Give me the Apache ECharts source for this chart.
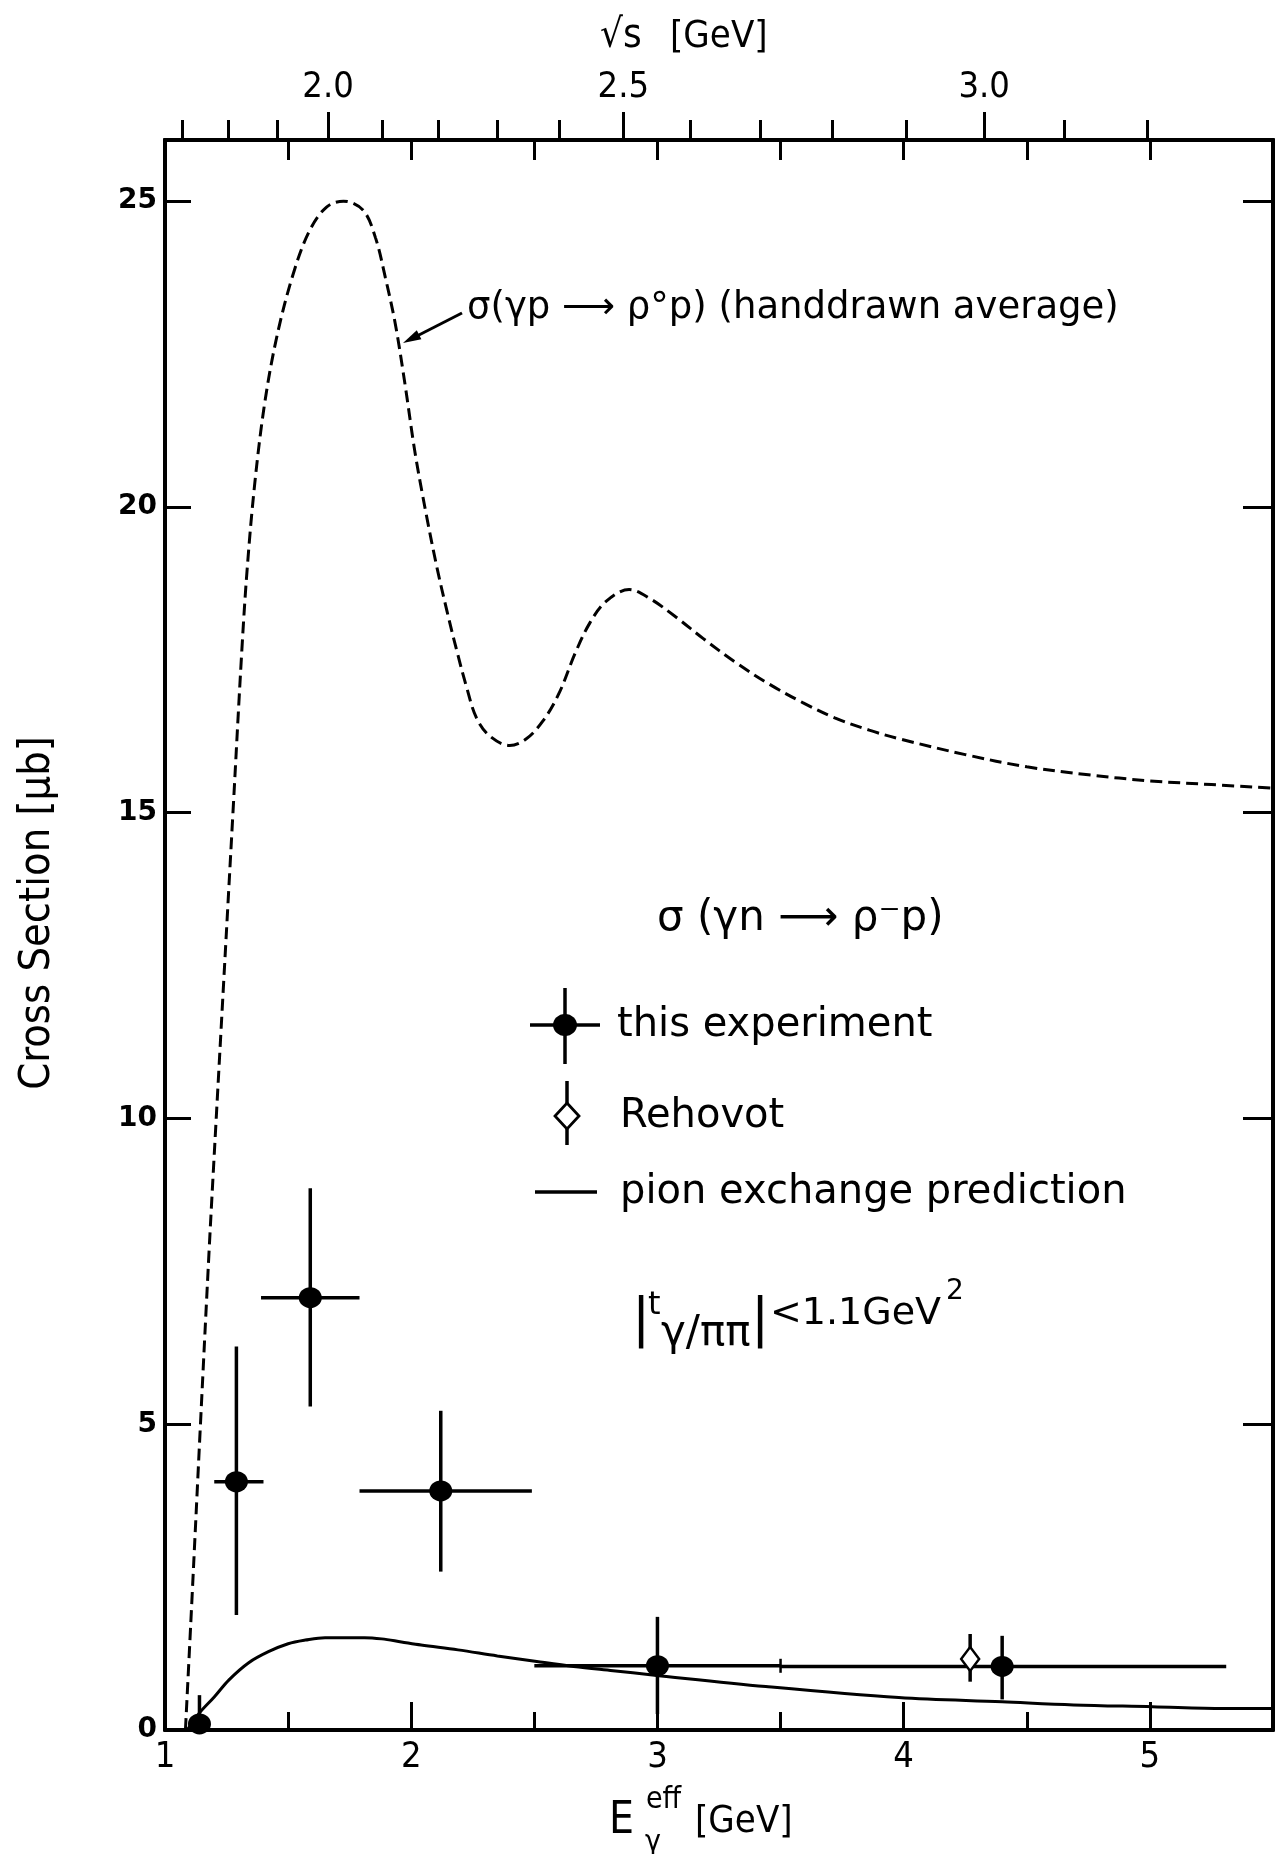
<!DOCTYPE html>
<html>
<head>
<meta charset="utf-8">
<script src="https://cdn.jsdelivr.net/npm/echarts@6/dist/echarts.min.js"></script>
<style>
html,body{margin:0;padding:0;background:#fff;}
#chart{width:1285px;height:1854px;}
</style>
</head>
<body>
<div id="chart"></div>
<script>
// ---------------- data ----------------
const PROTON_MASS = 0.93827; // GeV, converts E_gamma to sqrt(s) for the top axis

// axis ticks
const sqrtSTickValues = [1.7, 1.8, 1.9, 2.0, 2.1, 2.2, 2.3, 2.4, 2.5, 2.6, 2.7, 2.8, 2.9, 3.0, 3.1, 3.2];
const sqrtSLabelValues = [2.0, 2.5, 3.0];
const eMajorTicks = [1, 2, 3, 4, 5];
const eMinorTicks = [1.5, 2.5, 3.5, 4.5];
const eTopTicks = [1.5, 2, 2.5, 3, 3.5, 4, 4.5, 5];
const sigmaTicks = [0, 5, 10, 15, 20, 25];

// sigma(gamma p -> rho0 p), hand-drawn average (dashed)
const rhoE = [1.083, 1.109, 1.144, 1.179, 1.208, 1.276, 1.312, 1.334, 1.365, 1.405, 1.455, 1.52, 1.585, 1.655, 1.725, 1.805, 1.855, 1.895, 1.935, 1.975, 2.015, 2.06, 2.105, 2.145, 2.185, 2.225, 2.265, 2.32, 2.40, 2.465, 2.535, 2.60, 2.665, 2.725, 2.79, 2.885, 2.97, 3.075, 3.185, 3.32, 3.455, 3.59, 3.72, 3.86, 3.99, 4.25, 4.5, 4.75, 5.0, 5.25, 5.5];
const rhoSigma = [0, 2.1, 5.0, 7.83, 10.0, 15.0, 17.65, 19.0, 20.4, 21.7, 22.8, 23.8, 24.5, 24.9, 25.0, 24.85, 24.4, 23.75, 23.0, 22.0, 20.9, 19.9, 19.0, 18.3, 17.65, 17.05, 16.55, 16.25, 16.1, 16.2, 16.5, 16.95, 17.6, 18.1, 18.45, 18.65, 18.5, 18.2, 17.85, 17.45, 17.1, 16.8, 16.55, 16.35, 16.2, 15.95, 15.75, 15.62, 15.52, 15.46, 15.4];

// pion exchange prediction (solid)
const pionE = [1.09, 1.14, 1.20, 1.26, 1.34, 1.42, 1.50, 1.57, 1.65, 1.73, 1.81, 1.88, 1.96, 2.04, 2.19, 2.35, 2.51, 2.66, 2.82, 2.98, 3.44, 3.98, 4.40, 4.69, 5.01, 5.30, 5.5];
const pionSigma = [0, 0.28, 0.54, 0.82, 1.10, 1.28, 1.41, 1.47, 1.51, 1.51, 1.51, 1.49, 1.44, 1.39, 1.31, 1.21, 1.12, 1.04, 0.97, 0.90, 0.71, 0.53, 0.46, 0.41, 0.38, 0.35, 0.35];

// this experiment
const expE = [1.14, 1.29, 1.59, 2.12, 3.0, 4.40];
const expSigma = [0.1, 4.06, 7.07, 3.91, 1.05, 1.04];
const expELow = [1.14, 1.20, 1.39, 1.79, 2.5, 3.5];
const expEHigh = [1.14, 1.40, 1.79, 2.49, 3.5, 5.31];
const expSigmaLow = [0, 1.88, 5.29, 2.59, 0.26, 0.50];
const expSigmaHigh = [0.57, 6.27, 8.86, 5.22, 1.85, 1.54];

// Rehovot
const rehE = [4.27];
const rehSigma = [1.16];
const rehSigmaLow = [0.79];
const rehSigmaHigh = [1.57];

// ---------------- helpers ----------------
const m = PROTON_MASS;
const eOfSqrtS = w => (w * w - m * m) / (2 * m);
const sqrtSOfE = e => Math.sqrt(m * m + 2 * m * e);

const NARROW = "'Liberation Sans Narrow', 'DejaVu Sans Condensed', 'Liberation Sans', sans-serif";
const TEXT = "'DejaVu Sans', 'Liberation Sans', sans-serif";
const BLACK = '#000';
const AXIS_LINE = {show: true, onZero: false, lineStyle: {color: BLACK, width: 4}};

function errorBarRender(params, api) {
  const x = api.value(0), y = api.value(1);
  const xl = api.value(2), xh = api.value(3), yl = api.value(4), yh = api.value(5);
  const pl = api.coord([xl, y]), ph = api.coord([xh, y]);
  const vl = api.coord([x, yl]), vh = api.coord([x, yh]);
  const children = [];
  if (xh > xl) children.push({type: 'line', shape: {x1: pl[0], y1: pl[1], x2: ph[0], y2: ph[1]}, style: {stroke: BLACK, lineWidth: 3.5}});
  if (yh > yl) children.push({type: 'line', shape: {x1: vl[0], y1: vl[1], x2: vh[0], y2: vh[1]}, style: {stroke: BLACK, lineWidth: 3.5}});
  // small mark where two adjacent bins join into one continuous line
  if (xh > xl && xh !== x) {
    const j = expELow.indexOf(xh);
    if (j >= 0 && Math.abs(expSigma[j] - y) < 0.2) {
      children.push({type: 'line', shape: {x1: ph[0], y1: ph[1] - 7, x2: ph[0], y2: ph[1] + 7}, style: {stroke: BLACK, lineWidth: 2.5}});
    }
  }
  return {type: 'group', children};
}

function baseX(extra) {
  return Object.assign({
    type: 'value', min: 1, max: 5.5, gridIndex: 0,
    splitLine: {show: false},
    axisLine: AXIS_LINE,
    axisTick: {show: false},
    axisLabel: {show: false}
  }, extra);
}

const option = {
  backgroundColor: '#fff',
  animation: false,
  grid: {left: 165, top: 140, width: 1108, height: 1590, containLabel: false, outerBoundsMode: 'none'},
  xAxis: [
    baseX({position: 'bottom',
      axisTick: {show: true, inside: true, length: 28, customValues: eMajorTicks, lineStyle: {color: BLACK, width: 3}},
      axisLabel: {show: true, customValues: eMajorTicks, margin: 10, color: BLACK, fontSize: 36, fontFamily: NARROW}
    }),
    baseX({position: 'bottom',
      axisTick: {show: true, inside: true, length: 18, customValues: eMinorTicks, lineStyle: {color: BLACK, width: 3}}
    }),
    baseX({position: 'top',
      axisTick: {show: true, inside: true, length: 20, customValues: eTopTicks, lineStyle: {color: BLACK, width: 3}}
    }),
    baseX({position: 'top',
      axisTick: {show: true, inside: false, length: 20, customValues: sqrtSTickValues.map(eOfSqrtS), lineStyle: {color: BLACK, width: 3}}
    }),
    baseX({position: 'top',
      axisTick: {show: true, inside: false, length: 28, customValues: sqrtSLabelValues.map(eOfSqrtS), lineStyle: {color: BLACK, width: 3}},
      axisLabel: {show: true, customValues: sqrtSLabelValues.map(eOfSqrtS), margin: 34, color: BLACK, fontSize: 36, fontFamily: NARROW,
        formatter: v => sqrtSOfE(v).toFixed(1)}
    })
  ],
  yAxis: [
    {type: 'value', min: 0, max: 26, position: 'left', gridIndex: 0,
      splitLine: {show: false},
      axisLine: AXIS_LINE,
      axisTick: {show: true, inside: true, length: 26, customValues: sigmaTicks, lineStyle: {color: BLACK, width: 3}},
      axisLabel: {show: true, customValues: sigmaTicks, margin: 8, color: BLACK, fontSize: 28, fontWeight: 'bold', fontFamily: TEXT}
    },
    {type: 'value', min: 0, max: 26, position: 'right', gridIndex: 0,
      splitLine: {show: false},
      axisLine: AXIS_LINE,
      axisTick: {show: true, inside: true, length: 30, customValues: sigmaTicks, lineStyle: {color: BLACK, width: 3}},
      axisLabel: {show: false}
    }
  ],
  series: [
    {type: 'line', name: 'rho0', xAxisIndex: 0, yAxisIndex: 0, showSymbol: false, smooth: 0.35,
      data: rhoE.map((e, i) => [e, rhoSigma[i]]),
      lineStyle: {color: BLACK, width: 3, type: [12, 6], opacity: 1}, z: 2},
    {type: 'line', name: 'pion', xAxisIndex: 0, yAxisIndex: 0, showSymbol: false, smooth: 0.35,
      data: pionE.map((e, i) => [e, pionSigma[i]]),
      lineStyle: {color: BLACK, width: 3, opacity: 1}, z: 2},
    {type: 'custom', name: 'expErr', xAxisIndex: 0, yAxisIndex: 0, renderItem: errorBarRender,
      encode: {x: 0, y: 1},
      data: expE.map((e, i) => [e, expSigma[i], expELow[i], expEHigh[i], expSigmaLow[i], expSigmaHigh[i]]), z: 3},
    {type: 'custom', name: 'rehErr', xAxisIndex: 0, yAxisIndex: 0, renderItem: errorBarRender,
      encode: {x: 0, y: 1},
      data: rehE.map((e, i) => [e, rehSigma[i], e, e, rehSigmaLow[i], rehSigmaHigh[i]]), z: 3},
    {type: 'scatter', name: 'this experiment', xAxisIndex: 0, yAxisIndex: 0, symbol: 'circle', symbolSize: [23, 21],
      data: expE.map((e, i) => [e, expSigma[i]]), itemStyle: {color: BLACK, opacity: 1}, z: 4},
    {type: 'scatter', name: 'Rehovot', xAxisIndex: 0, yAxisIndex: 0, symbol: 'diamond', symbolSize: [18, 24],
      data: rehE.map((e, i) => [e, rehSigma[i]]), itemStyle: {color: '#fff', borderColor: BLACK, borderWidth: 2.5, opacity: 1}, z: 4}
  ],
  graphic: [
    // axis titles
    {type: 'text', x: 600, y: 37, style: {text: '√s', fill: BLACK, fontSize: 40, fontFamily: NARROW, align: 'left', verticalAlign: 'middle'}},
    {type: 'text', x: 670, y: 37, style: {text: '[GeV]', fill: BLACK, fontSize: 38, fontFamily: NARROW, align: 'left', verticalAlign: 'middle'}},
    {type: 'text', x: 38, y: 913, rotation: Math.PI / 2, style: {text: 'Cross Section [μb]', fill: BLACK, fontSize: 43, fontFamily: NARROW, align: 'center', verticalAlign: 'middle'}},
    {type: 'text', x: 609, y: 1822, style: {text: 'E', fill: BLACK, fontSize: 44, fontFamily: NARROW, align: 'left', verticalAlign: 'middle'}},
    {type: 'text', x: 646, y: 1800, style: {text: 'eff', fill: BLACK, fontSize: 30, fontFamily: NARROW, align: 'left', verticalAlign: 'middle'}},
    {type: 'text', x: 645, y: 1843, style: {text: 'γ', fill: BLACK, fontSize: 30, fontFamily: NARROW, align: 'left', verticalAlign: 'middle'}},
    {type: 'text', x: 695, y: 1822, style: {text: '[GeV]', fill: BLACK, fontSize: 38, fontFamily: NARROW, align: 'left', verticalAlign: 'middle'}},

    // annotation for dashed curve
    {type: 'text', x: 467, y: 308, style: {text: 'σ(γp ⟶ ρ°p) (handdrawn average)', fill: BLACK, fontSize: 37, fontFamily: TEXT, align: 'left', verticalAlign: 'middle'}},
    {type: 'line', shape: {x1: 462, y1: 313, x2: 415, y2: 337}, style: {stroke: BLACK, lineWidth: 3}},
    {type: 'polygon', shape: {points: [[403, 343], [416.8, 330.3], [421.4, 339.3]]}, style: {fill: BLACK}},

    // legend block
    {type: 'text', x: 657, y: 919, style: {text: 'σ (γn ⟶ ρ⁻p)', fill: BLACK, fontSize: 42, fontFamily: TEXT, align: 'left', verticalAlign: 'middle'}},
    {type: 'line', shape: {x1: 530, y1: 1025, x2: 600, y2: 1025}, style: {stroke: BLACK, lineWidth: 3.5}},
    {type: 'line', shape: {x1: 565, y1: 988, x2: 565, y2: 1064}, style: {stroke: BLACK, lineWidth: 3.5}},
    {type: 'ellipse', shape: {cx: 565, cy: 1025, rx: 12, ry: 11}, style: {fill: BLACK}},
    {type: 'text', x: 617, y: 1026, style: {text: 'this experiment', fill: BLACK, fontSize: 40, fontFamily: TEXT, align: 'left', verticalAlign: 'middle'}},
    {type: 'line', shape: {x1: 567, y1: 1081, x2: 567, y2: 1145}, style: {stroke: BLACK, lineWidth: 3.5}},
    {type: 'polygon', shape: {points: [[567, 1103], [579, 1116], [567, 1129], [555, 1116]]}, style: {fill: '#fff', stroke: BLACK, lineWidth: 2.8}},
    {type: 'text', x: 620, y: 1117, style: {text: 'Rehovot', fill: BLACK, fontSize: 40, fontFamily: TEXT, align: 'left', verticalAlign: 'middle'}},
    {type: 'line', shape: {x1: 535, y1: 1192, x2: 597, y2: 1192}, style: {stroke: BLACK, lineWidth: 3.5}},
    {type: 'text', x: 620, y: 1193, style: {text: 'pion exchange prediction', fill: BLACK, fontSize: 40, fontFamily: TEXT, align: 'left', verticalAlign: 'middle'}},

    // |t| cut
    {type: 'text', x: 641, y: 1322, style: {text: '|', fill: BLACK, fontSize: 54, fontFamily: TEXT, align: 'center', verticalAlign: 'middle'}},
    {type: 'text', x: 648, y: 1306, style: {text: 't', fill: BLACK, fontSize: 32, fontFamily: TEXT, align: 'left', verticalAlign: 'middle'}},
    {type: 'text', x: 661, y: 1334, style: {text: 'γ/ππ', fill: BLACK, fontSize: 42, fontFamily: TEXT, align: 'left', verticalAlign: 'middle'}},
    {type: 'text', x: 760, y: 1322, style: {text: '|', fill: BLACK, fontSize: 54, fontFamily: TEXT, align: 'center', verticalAlign: 'middle'}},
    {type: 'text', x: 770, y: 1314, style: {text: '<1.1GeV', fill: BLACK, fontSize: 38, fontFamily: TEXT, align: 'left', verticalAlign: 'middle'}},
    {type: 'text', x: 946, y: 1292, style: {text: '2', fill: BLACK, fontSize: 28, fontFamily: TEXT, align: 'left', verticalAlign: 'middle'}}
  ]
};

const chart = echarts.init(document.getElementById('chart'), null, {renderer: 'canvas', width: 1285, height: 1854});
chart.setOption(option);
</script>
</body>
</html>
